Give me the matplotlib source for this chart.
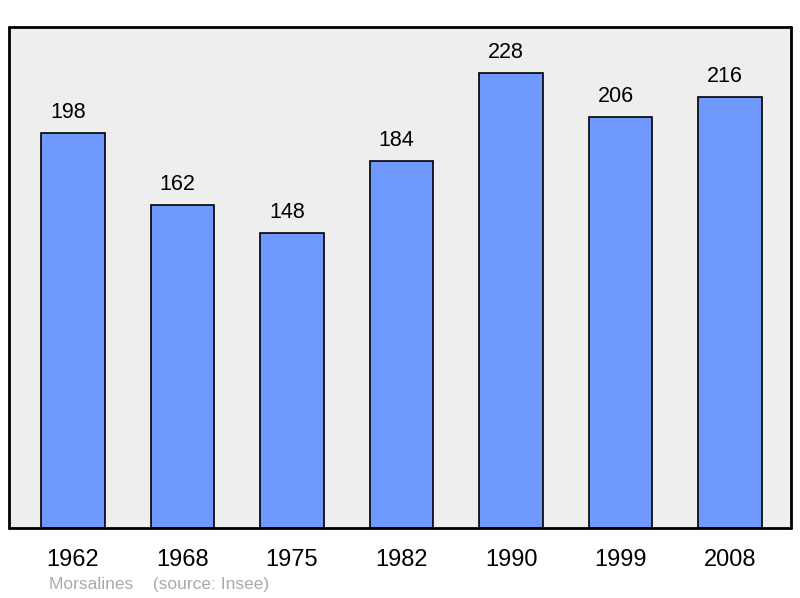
import matplotlib.pyplot as plt

plt.rcParams['font.family'] = ['Liberation Sans', 'DejaVu Sans']

years = ['1962', '1968', '1975', '1982', '1990', '1999', '2008']
population = [198, 162, 148, 184, 228, 206, 216]

fig = plt.figure(figsize=(8, 5.98), dpi=100)
ax = fig.add_axes([9/800, 70/598, 782/800, 501/598])
ax.set_facecolor('#eeeeee')

x = range(len(years))
ax.bar(x, population, width=0.58, color='#7099ff', edgecolor='black', linewidth=1.2)
for i, v in zip(x, population):
    ax.text(i - 0.045, v + 7.5, str(v), ha='center', va='baseline', fontsize=15.5)

ax.set_xlim(-0.585, 6.557)
ax.set_ylim(0, 251)
ax.set_yticks([])
ax.set_xticks(list(x))
ax.set_xticklabels(years, fontsize=17)
ax.tick_params(axis='x', length=0, pad=15)
for s in ax.spines.values():
    s.set_linewidth(2)
    s.set_capstyle('round')

fig.text(49/800, 1 - 584/598, 'Morsalines    (source: Insee)', color='#aaaaaa',
         fontsize=12.5, va='center', ha='left')

fig.savefig('out.png', dpi=100)
